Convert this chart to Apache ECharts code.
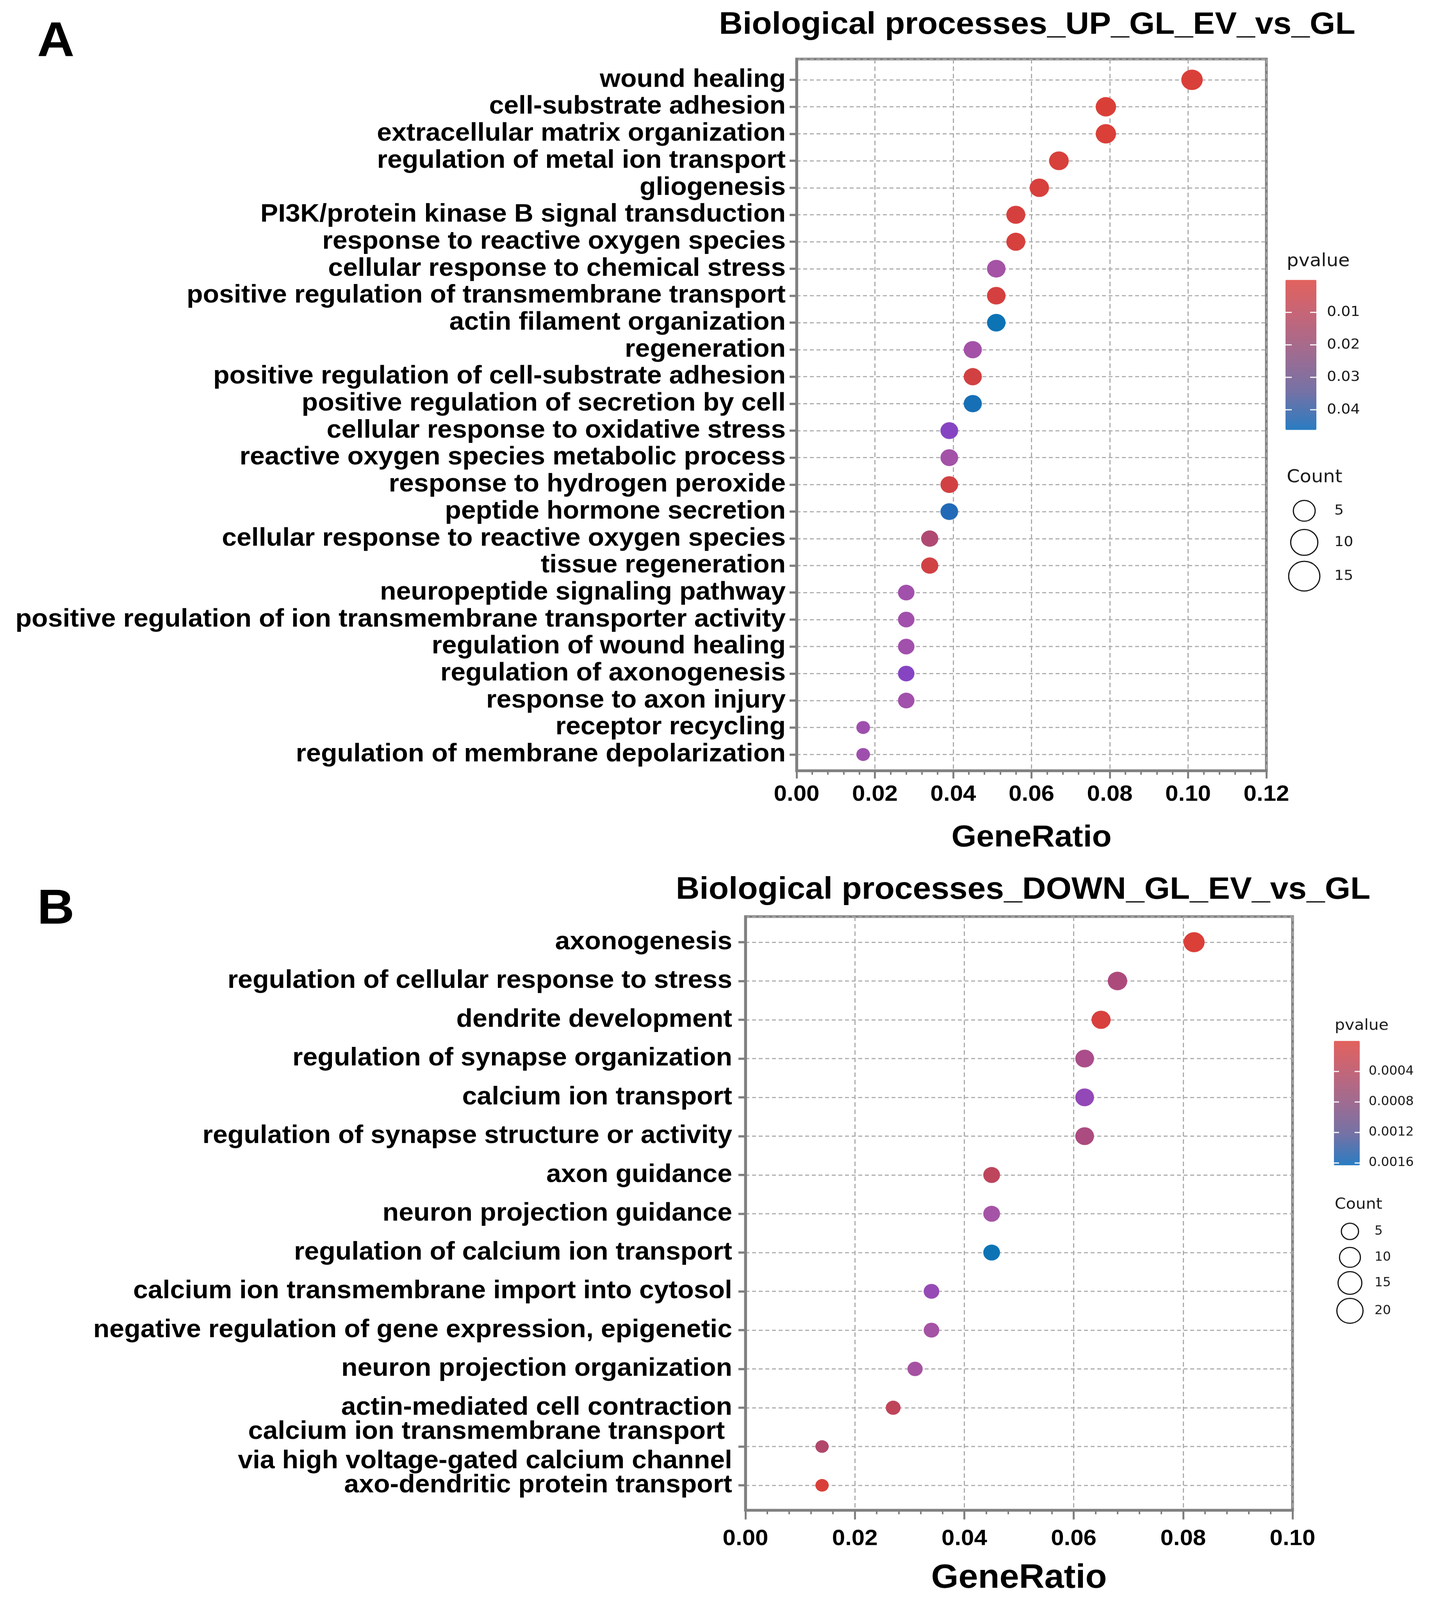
<!DOCTYPE html>
<html>
<head>
<meta charset="utf-8">
<title>Biological processes dot plots</title>
<script src="https://cdn.jsdelivr.net/npm/echarts@6.0.0/dist/echarts.min.js"></script>
<style>
  html, body { margin: 0; padding: 0; background: #ffffff; overflow: hidden; }
  #chart { width: 3662px; height: 4310px; transform-origin: 0 0; }
</style>
</head>
<body>
<div id="chart"></div>
<script>
// ---- data: panel A (UP) ----
const termsA = [
  'wound healing',
  'cell-substrate adhesion',
  'extracellular matrix organization',
  'regulation of metal ion transport',
  'gliogenesis',
  'PI3K/protein kinase B signal transduction',
  'response to reactive oxygen species',
  'cellular response to chemical stress',
  'positive regulation of transmembrane transport',
  'actin filament organization',
  'regeneration',
  'positive regulation of cell-substrate adhesion',
  'positive regulation of secretion by cell',
  'cellular response to oxidative stress',
  'reactive oxygen species metabolic process',
  'response to hydrogen peroxide',
  'peptide hormone secretion',
  'cellular response to reactive oxygen species',
  'tissue regeneration',
  'neuropeptide signaling pathway',
  'positive regulation of ion transmembrane transporter activity',
  'regulation of wound healing',
  'regulation of axonogenesis',
  'response to axon injury',
  'receptor recycling',
  'regulation of membrane depolarization'
];
const ratioA = [0.101, 0.079, 0.079, 0.067, 0.062, 0.056, 0.056, 0.051, 0.051, 0.051,
  0.045, 0.045, 0.045, 0.039, 0.039, 0.039, 0.039, 0.034, 0.034, 0.028,
  0.028, 0.028, 0.028, 0.028, 0.017, 0.017];
const pvalueA = [0.0009, 0.0004, 0.0006, 0.0012, 0.0014, 0.0019, 0.0017, 0.023, 0.0021, 0.046,
  0.024, 0.0026, 0.045, 0.035, 0.024, 0.0029, 0.044, 0.013, 0.0031, 0.025,
  0.025, 0.025, 0.035, 0.025, 0.026, 0.026];
const countA = [18, 14, 14, 12, 11, 10, 10, 9, 9, 9, 8, 8, 8, 7, 7, 7, 7, 6, 6, 5, 5, 5, 5, 5, 3, 3];
const xTicksA = [0, 0.12];
const pTicksA = [0.01, 0.02, 0.03, 0.04];
const pRangeA = [0, 0.0462];
const countLegendA = [5, 10, 15];

// ---- data: panel B (DOWN) ----
const termsB = [
  'axonogenesis',
  'regulation of cellular response to stress',
  'dendrite development',
  'regulation of synapse organization',
  'calcium ion transport',
  'regulation of synapse structure or activity',
  'axon guidance',
  'neuron projection guidance',
  'regulation of calcium ion transport',
  'calcium ion transmembrane import into cytosol',
  'negative regulation of gene expression, epigenetic',
  'neuron projection organization',
  'actin-mediated cell contraction',
  'calcium ion transmembrane transport \nvia high voltage-gated calcium channel',
  'axo-dendritic protein transport'
];
const ratioB = [0.082, 0.068, 0.065, 0.062, 0.062, 0.062, 0.045, 0.045, 0.045, 0.034,
  0.034, 0.031, 0.027, 0.014, 0.014];
const pvalueB = [0.00002, 0.00052, 0.00005, 0.00062, 0.00108, 0.00054, 0.00029, 0.00082, 0.00162, 0.00104,
  0.00081, 0.00079, 0.00027, 0.00040, 0.00003];
const countB = [24, 20, 19, 18, 18, 18, 13, 13, 13, 10, 10, 9, 8, 4, 4];
const xTicksB = [0, 0.10];
const pTicksB = [0.0004, 0.0008, 0.0012, 0.0016];
const pRangeB = [0, 0.00163];
const countLegendB = [5, 10, 15, 20];

// ---- styles ----
const FONT = '"Liberation Sans", Arial, sans-serif';
const LEGEND_FONT = '"DejaVu Sans", sans-serif';
const GRAY = '#808080';
const GRID_LINE = '#ababab';
const DOT_COLORS = ['#dc3f35', '#b0476c', '#a553a6', '#8a42c2', '#0a74b5'];
const BAR_COLORS = ['#e2625e', '#c2667a', '#9e6c92', '#7472a6', '#2a7cc2'];
const LINE_GAP = 0.375;  // half spacing of a wrapped label's two lines, in rows

const panels = [
  {
    letter: 'A', letterPos: [143, 115],
    title: 'Biological processes_UP_GL_EV_vs_GL', titlePos: [2656, 68],
    terms: termsA, ratio: ratioA, pvalue: pvalueA, count: countA,
    xTicks: xTicksA, pTicks: pTicksA, pRange: pRangeA, countLegend: countLegendA,
    grid: { left: 2040, top: 159, width: 1203, height: 1917 }, pad: [0.77, 0.6],
    yLabelMargin: 28, xLabelMargin: 34, tickLen: 21, nameSize: 82, nameGap: 140,
    dot: [35, 55], sqrtSize: true,
    bar: { left: 3292, top: 754, width: 79, height: 404 },
    titleX: 3295, titleY: 705, labelX: 3398, titleSize: 48, labelSize: 38,
    countTitleY: 1287, circleX: 3340, circleY: [1376, 1461, 1552], circleLabelX: 3417,
    legendSize: c => 23.2 + 14.66 * Math.sqrt(c)
  },
  {
    letter: 'B', letterPos: [143, 2452],
    title: 'Biological processes_DOWN_GL_EV_vs_GL', titlePos: [2620, 2398],
    terms: termsB, ratio: ratioB, pvalue: pvalueB, count: countB,
    xTicks: xTicksB, pTicks: pTicksB, pRange: pRangeB, countLegend: countLegendB,
    grid: { left: 1909, top: 2469, width: 1401, height: 1599 }, pad: [0.66, 0.64],
    yLabelMargin: 34, xLabelMargin: 47, tickLen: 25, nameSize: 90, nameGap: 139,
    dot: [34, 54], sqrtSize: false,
    bar: { left: 3416, top: 2804, width: 66, height: 335 },
    titleX: 3418, titleY: 2763, labelX: 3505, titleSize: 41, labelSize: 33,
    countTitleY: 3245, circleX: 3457, circleY: [3317, 3387, 3456, 3531], circleLabelX: 3520,
    legendSize: c => 21 + 10.3 * Math.sqrt(c)
  }
];

// the page is photographed at the viewport size: fit the 3662x4310 drawing into it
const chartDom = document.getElementById('chart');
const fitToViewport = () => {
  const sx = window.innerWidth / 3662;
  const sy = window.innerHeight / 4310;
  chartDom.style.transform = 'scale(' + sx + ',' + sy + ')';
};
fitToViewport();

const chart = echarts.init(chartDom, null, { renderer: 'canvas' });

const grids = [], xAxes = [], yAxes = [], series = [], visualMaps = [], graphics = [];

panels.forEach((p, i) => {
  const n = p.terms.length;
  const yMin = -p.pad[0], yMax = n - 1 + p.pad[1];
  const idx = p.terms.map((_, k) => k);
  const cMin = Math.min(...p.count), cMax = Math.max(...p.count);
  const sizeOf = c => {
    const t = (c - cMin) / (cMax - cMin);
    return p.dot[0] + (p.dot[1] - p.dot[0]) * (p.sqrtSize ? Math.sqrt(t) : t);
  };

  // label positions: wrapped terms get one label per line around their row.
  // empty labels sit at both axis ends, so the min/max label check only drops those.
  const labelAt = {};
  const labelValues = [yMin];
  p.terms.forEach((t, k) => {
    const lines = t.split('\n');
    if (lines.length === 1) {
      labelValues.push(k);
      labelAt[k] = t;
    } else {
      lines.forEach((line, j) => {
        const v = k + (j === 0 ? -LINE_GAP : LINE_GAP);
        labelValues.push(v);
        labelAt[v] = line;
      });
    }
  });
  labelValues.push(yMax);

  grids.push({
    left: p.grid.left, top: p.grid.top, width: p.grid.width, height: p.grid.height,
    show: true, borderColor: GRAY, borderWidth: 7, backgroundColor: 'transparent',
    containLabel: false, outerBoundsMode: 'none'
  });

  xAxes.push({
    gridIndex: i, type: 'value', min: p.xTicks[0], max: p.xTicks[1], interval: 0.02,
    axisLine: { show: true, onZero: false, lineStyle: { color: GRAY, width: 7 } },
    axisTick: { show: true, length: p.tickLen, lineStyle: { color: GRAY, width: 5 } },
    minorTick: { show: true, splitNumber: 5, length: 11, lineStyle: { color: GRAY, width: 4 } },
    axisLabel: {
      formatter: v => v.toFixed(2), margin: p.xLabelMargin, showMinLabel: true, showMaxLabel: true,
      color: '#000', fontSize: 60, fontWeight: 'bold', fontFamily: FONT
    },
    splitLine: { show: true, lineStyle: { color: GRID_LINE, width: 3, type: [12, 8] } },
    name: 'GeneRatio', nameLocation: 'middle', nameGap: p.nameGap,
    nameTextStyle: { color: '#000', fontSize: p.nameSize, fontWeight: 'bold', fontFamily: FONT }
  });

  yAxes.push({
    gridIndex: i, type: 'value', inverse: true,
    min: yMin, max: yMax,
    axisLine: { show: true, onZero: false, lineStyle: { color: GRAY, width: 7 } },
    axisTick: { show: true, customValues: [yMin, ...idx, yMax], length: 18, lineStyle: { color: GRAY, width: 6 } },
    axisLabel: {
      customValues: labelValues, formatter: v => labelAt[v] || '', margin: p.yLabelMargin,
      showMinLabel: false, showMaxLabel: false, hideOverlap: false,
      color: '#000', fontSize: 68, fontWeight: 'bold', fontFamily: FONT, lineHeight: 60
    },
    splitLine: { show: true, customValues: idx, lineStyle: { color: GRID_LINE, width: 3, type: [10, 7] } }
  });

  series.push({
    type: 'scatter', xAxisIndex: i, yAxisIndex: i,
    data: p.terms.map((_, k) => [p.ratio[k], k, p.pvalue[k], p.count[k]]),
    symbol: 'circle',
    symbolSize: v => sizeOf(v[3]),
    itemStyle: { opacity: 1 },
    emphasis: { disabled: true },
    silent: true, z: 5
  });

  visualMaps.push({
    type: 'continuous', seriesIndex: i, dimension: 2,
    min: p.pRange[0], max: p.pRange[1],
    orient: 'vertical', inverse: true, calculable: false, hoverLink: false,
    left: p.bar.left, top: p.bar.top, itemWidth: p.bar.width, itemHeight: p.bar.height,
    padding: 0,
    inRange: { color: DOT_COLORS },
    controller: { inRange: { color: BAR_COLORS } }
  });

  // panel letter and title
  graphics.push({
    type: 'text', x: p.letterPos[0], y: p.letterPos[1],
    style: { text: p.letter, fill: '#000', fontSize: 132, fontWeight: 'bold', fontFamily: FONT, align: 'center', verticalAlign: 'middle' }
  });
  graphics.push({
    type: 'text', x: p.titlePos[0], y: p.titlePos[1],
    style: { text: p.title, fill: '#000', fontSize: 84, fontWeight: 'bold', fontFamily: FONT, align: 'center', verticalAlign: 'middle' }
  });

  // colour bar legend: title, ticks, labels
  const legendText = (text, x, y, size) => ({
    type: 'text', x, y,
    style: { text, fill: '#1a1a1a', fontSize: size, fontFamily: LEGEND_FONT, align: 'left', verticalAlign: 'middle' }
  });
  graphics.push(legendText('pvalue', p.titleX, p.titleY, p.titleSize));
  p.pTicks.forEach(v => {
    const y = p.bar.top + (v - p.pRange[0]) / (p.pRange[1] - p.pRange[0]) * p.bar.height;
    const tick = Math.round(p.bar.width * 0.2);
    graphics.push({ type: 'line', z: 100, shape: { x1: p.bar.left, y1: y, x2: p.bar.left + tick, y2: y }, style: { stroke: '#ffffff', lineWidth: 3 } });
    graphics.push({ type: 'line', z: 100, shape: { x1: p.bar.left + p.bar.width - tick, y1: y, x2: p.bar.left + p.bar.width, y2: y }, style: { stroke: '#ffffff', lineWidth: 3 } });
    graphics.push(legendText(String(v), p.labelX, y, p.labelSize));
  });

  // count size legend
  graphics.push(legendText('Count', p.titleX, p.countTitleY, p.titleSize));
  p.countLegend.forEach((c, k) => {
    graphics.push({
      type: 'circle', shape: { cx: p.circleX, cy: p.circleY[k], r: p.legendSize(c) / 2 },
      style: { fill: 'none', stroke: '#111111', lineWidth: 3 }
    });
    graphics.push(legendText(String(c), p.circleLabelX, p.circleY[k], p.labelSize));
  });
});

const option = {
  animation: false,
  backgroundColor: '#ffffff',
  grid: grids,
  xAxis: xAxes,
  yAxis: yAxes,
  visualMap: visualMaps,
  series: series,
  graphic: { elements: graphics }
};

chart.setOption(option);
window.addEventListener('resize', function () {
  fitToViewport();
});
</script>
</body>
</html>
